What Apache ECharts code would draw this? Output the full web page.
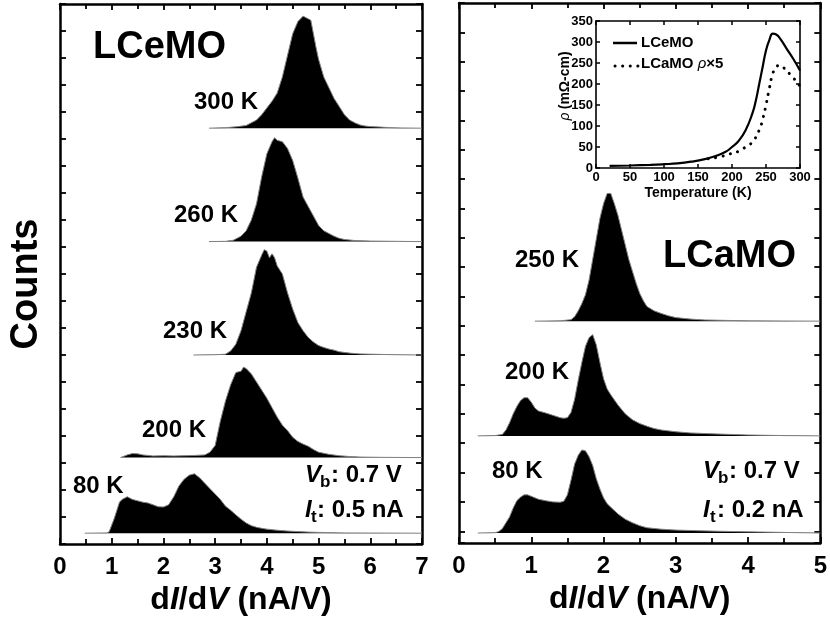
<!DOCTYPE html>
<html><head><meta charset="utf-8">
<script src="https://cdn.jsdelivr.net/npm/echarts@6/dist/echarts.min.js"></script>
<style>html,body{margin:0;padding:0;background:#fff}#c{width:830px;height:624px}</style>
</head><body><div id="c"></div>
<script>
// ---------------- DATA ----------------
// Left panel (LCeMO): dI/dV histograms, [dI/dV (nA/V), counts]
const lceLabels = ['300 K', '260 K', '230 K', '200 K', '80 K'];
const lceOffsets = [15.4, 11.2, 7.0, 3.2, 0.4];
const lce300 = [[2.88,0],[3.0,0.01],[3.2,0.02],[3.4,0.05],[3.6,0.1],[3.8,0.3],[3.9,0.5],[4.0,0.75],[4.1,1.0],[4.2,1.3],[4.3,1.9],[4.4,2.7],[4.5,3.5],[4.6,3.95],[4.7,4.15],[4.75,4.1],[4.8,4.05],[4.85,4.0],[4.9,3.5],[4.95,3.0],[5.0,2.55],[5.1,1.9],[5.2,1.5],[5.3,1.1],[5.4,0.8],[5.5,0.5],[5.6,0.3],[5.7,0.2],[5.8,0.12],[5.9,0.08],[6.0,0.06],[6.2,0.04],[6.4,0.02],[6.6,0.01],[7.0,0]];
const lce260 = [[2.88,0],[3.2,0.01],[3.35,0.05],[3.5,0.2],[3.6,0.4],[3.7,0.8],[3.8,1.4],[3.9,2.4],[4.0,3.25],[4.1,3.7],[4.15,3.85],[4.2,3.75],[4.3,3.7],[4.4,3.45],[4.5,3.0],[4.6,2.35],[4.7,1.65],[4.8,1.3],[4.9,0.95],[5.0,0.6],[5.1,0.4],[5.2,0.3],[5.3,0.2],[5.4,0.12],[5.5,0.08],[5.7,0.04],[6.0,0.02],[6.5,0.01],[7.0,0]];
const lce230 = [[2.58,0],[3.0,0.01],[3.2,0.03],[3.3,0.15],[3.4,0.4],[3.5,0.9],[3.6,1.6],[3.7,2.3],[3.8,3.25],[3.9,3.7],[3.95,3.9],[4.0,3.85],[4.05,3.6],[4.1,3.75],[4.15,3.6],[4.2,3.3],[4.3,3.0],[4.4,2.3],[4.5,1.7],[4.6,1.2],[4.7,0.9],[4.8,0.65],[4.9,0.48],[5.0,0.35],[5.1,0.28],[5.2,0.22],[5.3,0.18],[5.4,0.12],[5.6,0.07],[5.8,0.04],[6.0,0.03],[6.5,0.01],[7.0,0]];
const lce200 = [[1.17,0],[1.2,0.03],[1.3,0.1],[1.4,0.15],[1.5,0.14],[1.6,0.1],[1.8,0.06],[2.0,0.07],[2.2,0.06],[2.4,0.07],[2.6,0.08],[2.8,0.1],[2.9,0.2],[3.0,0.45],[3.1,1.35],[3.2,2.1],[3.3,2.7],[3.4,3.15],[3.5,3.2],[3.55,3.35],[3.6,3.3],[3.7,3.1],[3.8,2.8],[3.9,2.5],[4.0,2.2],[4.1,1.85],[4.2,1.5],[4.3,1.2],[4.4,1.0],[4.5,0.75],[4.6,0.6],[4.7,0.5],[4.8,0.42],[4.9,0.3],[5.0,0.2],[5.2,0.12],[5.4,0.07],[5.6,0.04],[5.8,0.02],[6.2,0.01],[7.0,0]];
const lce80 = [[0.48,0],[0.9,0.01],[0.95,0.05],[1.0,0.3],[1.05,0.55],[1.1,0.85],[1.15,1.15],[1.2,1.25],[1.3,1.35],[1.35,1.3],[1.4,1.25],[1.5,1.2],[1.6,1.15],[1.7,1.12],[1.8,1.05],[1.9,0.98],[2.0,0.97],[2.1,1.05],[2.2,1.35],[2.3,1.75],[2.4,2.0],[2.5,2.15],[2.6,2.2],[2.7,2.05],[2.8,1.85],[2.9,1.65],[3.0,1.45],[3.1,1.25],[3.2,1.0],[3.3,0.85],[3.4,0.68],[3.5,0.52],[3.6,0.38],[3.7,0.28],[3.8,0.22],[3.9,0.18],[4.0,0.15],[4.2,0.11],[4.4,0.08],[4.6,0.06],[4.8,0.04],[5.0,0.03],[5.5,0.01],[7.0,0]];

// Right panel (LCaMO)
const lcaLabels = ['250 K', '200 K', '80 K'];
const lcaOffsets = [7.56, 3.65, 0.34];
const lca250 = [[1.05,0],[1.4,0.01],[1.55,0.05],[1.6,0.15],[1.65,0.35],[1.7,0.6],[1.75,0.9],[1.8,1.4],[1.85,2.1],[1.9,2.8],[1.95,3.5],[2.0,4.0],[2.05,4.35],[2.1,4.35],[2.15,4.0],[2.2,3.6],[2.25,3.1],[2.3,2.6],[2.35,2.1],[2.4,1.7],[2.45,1.3],[2.5,0.95],[2.55,0.7],[2.6,0.5],[2.7,0.35],[2.8,0.26],[2.9,0.18],[3.0,0.12],[3.2,0.07],[3.4,0.04],[3.6,0.03],[4.0,0.01],[5.0,0]];
const lca200 = [[0.26,0],[0.5,0.01],[0.6,0.05],[0.65,0.2],[0.7,0.45],[0.75,0.75],[0.8,1.0],[0.85,1.2],[0.9,1.3],[0.95,1.3],[1.0,1.15],[1.05,0.95],[1.1,0.85],[1.2,0.78],[1.3,0.7],[1.4,0.62],[1.45,0.6],[1.5,0.62],[1.55,0.8],[1.6,1.25],[1.65,1.9],[1.7,2.5],[1.75,3.05],[1.8,3.35],[1.85,3.45],[1.9,3.1],[1.95,2.5],[2.0,1.95],[2.05,1.6],[2.1,1.4],[2.2,1.05],[2.3,0.75],[2.4,0.55],[2.5,0.42],[2.6,0.33],[2.7,0.25],[2.8,0.2],[3.0,0.14],[3.2,0.1],[3.5,0.07],[4.0,0.03],[4.5,0.01],[5.0,0]];
const lca80 = [[0.26,0],[0.5,0.01],[0.55,0.05],[0.6,0.15],[0.65,0.35],[0.7,0.55],[0.75,0.85],[0.8,1.1],[0.85,1.22],[0.9,1.3],[0.95,1.3],[1.0,1.25],[1.1,1.15],[1.2,1.1],[1.3,1.06],[1.4,1.05],[1.45,1.08],[1.5,1.3],[1.55,1.8],[1.6,2.35],[1.65,2.65],[1.7,2.83],[1.75,2.8],[1.8,2.6],[1.85,2.3],[1.9,1.85],[1.95,1.5],[2.0,1.2],[2.05,1.0],[2.1,0.88],[2.2,0.65],[2.3,0.47],[2.4,0.35],[2.5,0.25],[2.6,0.18],[2.8,0.13],[3.0,0.1],[3.3,0.08],[3.6,0.06],[4.0,0.04],[4.5,0.02],[5.0,0]];

// Inset: resistivity vs temperature
const insetLceT   = [20,50,80,100,120,140,160,175,190,200,210,220,230,235,240,245,250,255,260,265,270,280,290,300];
const insetLceRho = [5,6,7.5,9,11,15,21,28,38,50,65,90,130,160,200,240,280,305,320,318,310,285,260,232];
const insetLcaT   = [165,180,190,200,210,220,230,240,245,250,255,260,265,270,275,280,290,300];
const insetLcaRho = [22,26,30,35,40,50,62,90,115,150,190,225,240,245,240,232,215,195];
const insetXTicks = [0,300,50];
const insetYTicks = [0,350,50];

// ---------------- CHART ----------------
const FONT = '"Liberation Sans", Arial, Helvetica, sans-serif';
const chart = echarts.init(document.getElementById('c'));

function xAx(grid, pos, min, max, showLabel, extra) {
  return Object.assign({
    type: 'value', gridIndex: grid, position: pos, min: min, max: max, interval: 1,
    axisLine: { show: true, onZero: false, lineStyle: { color: '#000', width: 2.5 } },
    axisTick: { show: true, inside: true, length: 6, lineStyle: { color: '#000', width: 1.8 } },
    minorTick: { show: true, splitNumber: 2, length: 5, lineStyle: { color: '#000', width: 1.8 } },
    axisLabel: { show: showLabel, color: '#000', fontSize: 24, fontWeight: 'bold', fontFamily: FONT, margin: 11 },
    splitLine: { show: false }, minorSplitLine: { show: false }
  }, extra || {});
}
function yAx(grid, pos, min, max, inverse) {
  return {
    type: 'value', gridIndex: grid, position: pos, min: min, max: max, interval: 1, inverse: !!inverse,
    axisLine: { show: true, onZero: false, lineStyle: { color: '#000', width: 2.5 } },
    axisTick: { show: true, inside: true, length: 6, lineStyle: { color: '#000', width: 1.8 } },
    axisLabel: { show: false }, splitLine: { show: false }
  };
}
const titleRich = {
  a: { fontSize: 32, fontWeight: 'bold', fontFamily: FONT, color: '#000' },
  i: { fontSize: 32, fontWeight: 'bold', fontStyle: 'italic', fontFamily: FONT, color: '#000' }
};
const titleName = '{a|d}{i|I}{a|/d}{i|V}{a| (nA/V)}';

function insetAx(isX, pos, labels, ticks) {
  const o = {
    type: 'value', gridIndex: 2, position: pos, min: ticks[0], max: ticks[1], interval: ticks[2],
    axisLine: { show: true, onZero: false, lineStyle: { color: '#000', width: 1.6 } },
    axisTick: { show: true, inside: true, length: 4, lineStyle: { color: '#000', width: 1.5 } },
    axisLabel: { show: labels, color: '#000', fontSize: 13, fontWeight: 'bold', fontFamily: FONT, margin: 3 },
    splitLine: { show: false }
  };
  return o;
}

const series = [];
function addHist(pts, off, xi, yi) {
  series.push({
    type: 'line', xAxisIndex: xi, yAxisIndex: yi, symbol: 'none', smooth: false,
    data: pts.map(p => [p[0], off + p[1]]),
    lineStyle: { color: '#808080', width: 1 },
    areaStyle: { color: '#000', opacity: 1, origin: off },
    silent: true, animation: false
  });
}
[lce300, lce260, lce230, lce200, lce80].forEach((d, k) => addHist(d, lceOffsets[k], 0, 0));
[lca250, lca200, lca80].forEach((d, k) => addHist(d, lcaOffsets[k], 2, 4));

series.push({
  type: 'line', xAxisIndex: 4, yAxisIndex: 5, symbol: 'none', smooth: true, animation: false,
  data: insetLceT.map((t, k) => [t, insetLceRho[k]]),
  lineStyle: { color: '#000', width: 2.2 }, z: 10
});
series.push({
  type: 'line', xAxisIndex: 4, yAxisIndex: 5, symbol: 'none', smooth: true, animation: false,
  data: insetLcaT.map((t, k) => [t, insetLcaRho[k]]),
  lineStyle: { color: '#000', width: 3, type: [0.1, 7.5], cap: 'round' }, z: 10
});

function txt(x, y, text, size, style) {
  return { type: 'text', x: x, y: y, z: 100,
    style: { text: text, font: (style || 'bold') + ' ' + size + 'px ' + FONT, fill: '#000', align: 'left', verticalAlign: 'middle' } };
}
const graphics = [
  txt(93, 48, 'LCeMO', 38),
  txt(663, 257, 'LCaMO', 38),
  { type: 'text', x: 27, y: 284, rotation: Math.PI / 2, z: 100,
    style: { text: 'Counts', font: 'bold 38px ' + FONT, fill: '#000', align: 'center', verticalAlign: 'middle' } },
  txt(194, 102, lceLabels[0], 24),
  txt(174, 215, lceLabels[1], 24),
  txt(163, 331, lceLabels[2], 24),
  txt(142, 430, lceLabels[3], 24),
  txt(73, 486, lceLabels[4], 24),
  txt(515, 260, lcaLabels[0], 24),
  txt(505, 372, lcaLabels[1], 24),
  txt(492, 471, lcaLabels[2], 24),
  // left Vb / It
  txt(305, 475, 'V', 24, 'italic bold'), txt(320, 482, 'b', 17), txt(331, 475, ': 0.7 V', 24),
  txt(305, 510, 'I', 24, 'italic bold'), txt(311, 517, 't', 17), txt(317, 510, ': 0.5 nA', 24),
  // right Vb / It
  txt(703, 471, 'V', 24, 'italic bold'), txt(718, 478, 'b', 17), txt(729, 471, ': 0.7 V', 24),
  txt(703, 510, 'I', 24, 'italic bold'), txt(710, 517, 't', 17), txt(717, 510, ': 0.2 nA', 24),
  // inset legend
  { type: 'line', z: 100, shape: { x1: 613, y1: 43, x2: 637, y2: 43 }, style: { stroke: '#000', lineWidth: 2.5 } },
  { type: 'line', z: 100, shape: { x1: 615, y1: 66, x2: 638, y2: 66 }, style: { stroke: '#000', lineWidth: 3, lineDash: [0.1, 7.5], lineCap: 'round' } },
  txt(641, 43, 'LCeMO', 15),
  { type: 'text', x: 641, y: 64, z: 100, style: { text: '{a|LCaMO }{b|ρ}{a|×5}', fill: '#000', align: 'left', verticalAlign: 'middle',
      rich: { a: { font: 'bold 15px ' + FONT, fill: '#000' }, b: { font: 'italic 15px ' + FONT, fill: '#000' } } } },
  // inset y label
  { type: 'text', x: 565, y: 86, rotation: Math.PI / 2, z: 100,
    style: { text: '{b|ρ} {a|(mΩ-cm)}', fill: '#000', align: 'center', verticalAlign: 'middle',
      rich: { a: { font: 'bold 14px ' + FONT, fill: '#000' }, b: { font: 'italic 14px ' + FONT, fill: '#000' } } } }
];

chart.setOption({
  animation: false,
  backgroundColor: '#fff',
  grid: [
    { left: 60, top: 4, width: 362, height: 540 },
    { left: 459, top: 3, width: 363, height: 540 },
    { left: 596, top: 21, width: 204, height: 147 }
  ],
  xAxis: [
    xAx(0, 'bottom', 0, 7, true, { name: titleName, nameLocation: 'middle', nameGap: 40, nameTextStyle: { rich: titleRich } }),
    xAx(0, 'top', 0, 7, false),
    xAx(1, 'bottom', 0, 5, true, { name: titleName, nameLocation: 'middle', nameGap: 40, nameTextStyle: { rich: titleRich } }),
    xAx(1, 'top', 0, 5, false),
    Object.assign(insetAx(true, 'bottom', true, insetXTicks), { name: 'Temperature (K)', nameLocation: 'middle', nameGap: 18,
      nameTextStyle: { color: '#000', fontSize: 14, fontWeight: 'bold', fontFamily: FONT } }),
    insetAx(true, 'top', false, insetXTicks)
  ],
  yAxis: [
    yAx(0, 'left', 0, 20), yAx(0, 'right', 0, 20),
    yAx(1, 'left', 0, 18.4, true), yAx(1, 'right', 0, 18.4, true),
    { type: 'value', gridIndex: 1, min: 0, max: 18.4, show: false },
    insetAx(false, 'left', true, insetYTicks),
    insetAx(false, 'right', false, insetYTicks)
  ],
  series: series,
  graphic: graphics
});
</script>
</body></html>
